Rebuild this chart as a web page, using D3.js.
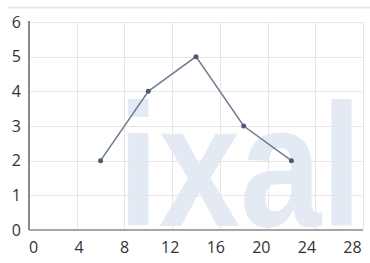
<!DOCTYPE html>
<html>
<head>
<meta charset="utf-8">
<script src="https://cdn.jsdelivr.net/npm/d3@7"></script>
<style>
  body { margin: 0; background: #fff; }
  svg { display: block; }
  .grid line { stroke: #e6e6e6; stroke-width: 1; }
  .tick text { font-family: "Open Sans", "Noto Sans", sans-serif; font-size: 16px; fill: #333; }
</style>
</head>
<body>
<div id="chart"></div>
<script>
// data
var xValues = [6, 10, 14, 18, 22];
var yValues = [2, 4, 5, 3, 2];
var xTicks = [0, 4, 8, 12, 16, 20, 24, 28];
var yTicks = [0, 1, 2, 3, 4, 5, 6];

var width = 370, height = 263;
var points = xValues.map(function (x, i) { return {x: x, y: yValues[i]}; });

var svg = d3.select("#chart").append("svg")
  .attr("width", width)
  .attr("height", height);

var x = d3.scaleLinear().domain([0, 28]).range([29, 363]);
var y = d3.scaleLinear().domain([0, 6]).range([230, 22]);
// labels sit a little inside the grid positions in the original
var xLabel = d3.scaleLinear().domain([0, 28]).range([33, 352]);

// top border line
svg.append("line")
  .attr("x1", 8).attr("x2", width)
  .attr("y1", 7.5).attr("y2", 7.5)
  .attr("stroke", "#e8e8e8").attr("stroke-width", 2);

// watermark
svg.append("text")
  .attr("x", 118).attr("y", 226)
  .attr("font-family", "Liberation Sans, Arial, sans-serif")
  .attr("font-weight", "bold")
  .attr("font-size", 175)
  .attr("textLength", 244)
  .attr("lengthAdjust", "spacingAndGlyphs")
  .attr("fill", "#e4eaf3")
  .text("ixal");

// grid
var gridG = svg.append("g").attr("class", "grid");
gridG.selectAll("line.v")
  .data(xTicks.slice(1))
  .enter().append("line")
  .attr("class", "v")
  .attr("x1", function (d) { return Math.round(x(d)) + 0.5; })
  .attr("x2", function (d) { return Math.round(x(d)) + 0.5; })
  .attr("y1", y(6)).attr("y2", y(0));
gridG.selectAll("line.h")
  .data(yTicks.slice(1))
  .enter().append("line")
  .attr("class", "h")
  .attr("y1", function (d) { return Math.round(y(d)) + 0.5; })
  .attr("y2", function (d) { return Math.round(y(d)) + 0.5; })
  .attr("x1", x(0)).attr("x2", x(28));

// axes
svg.append("line")
  .attr("x1", x(0)).attr("x2", x(28))
  .attr("y1", y(0)).attr("y2", y(0))
  .attr("stroke", "#8a8a8a").attr("stroke-width", 1.5);
svg.append("line")
  .attr("x1", x(0)).attr("x2", x(0))
  .attr("y1", y(6) - 1).attr("y2", y(0))
  .attr("stroke", "#8a8a8a").attr("stroke-width", 2);

var xAxis = d3.axisBottom(xLabel).tickValues(xTicks).tickSize(0).tickPadding(0)
  .tickFormat(d3.format("d"));
var xAxisG = svg.append("g")
  .attr("transform", "translate(0,242)")
  .call(xAxis);
xAxisG.select(".domain").remove();

var yAxis = d3.axisLeft(y).tickValues(yTicks).tickSize(0).tickPadding(0)
  .tickFormat(d3.format("d"));
var yAxisG = svg.append("g")
  .attr("transform", "translate(21,0)")
  .call(yAxis);
yAxisG.select(".domain").remove();

// line + markers
var line = d3.line()
  .x(function (d) { return x(d.x); })
  .y(function (d) { return y(d.y); });

svg.append("path")
  .datum(points)
  .attr("fill", "none")
  .attr("stroke", "#6d7b95")
  .attr("stroke-width", 1.5)
  .attr("d", line);

svg.selectAll("circle.pt")
  .data(points)
  .enter().append("circle")
  .attr("class", "pt")
  .attr("cx", function (d) { return x(d.x); })
  .attr("cy", function (d) { return y(d.y); })
  .attr("r", 2.5)
  .attr("fill", "#4d5a72");
</script>
</body>
</html>
